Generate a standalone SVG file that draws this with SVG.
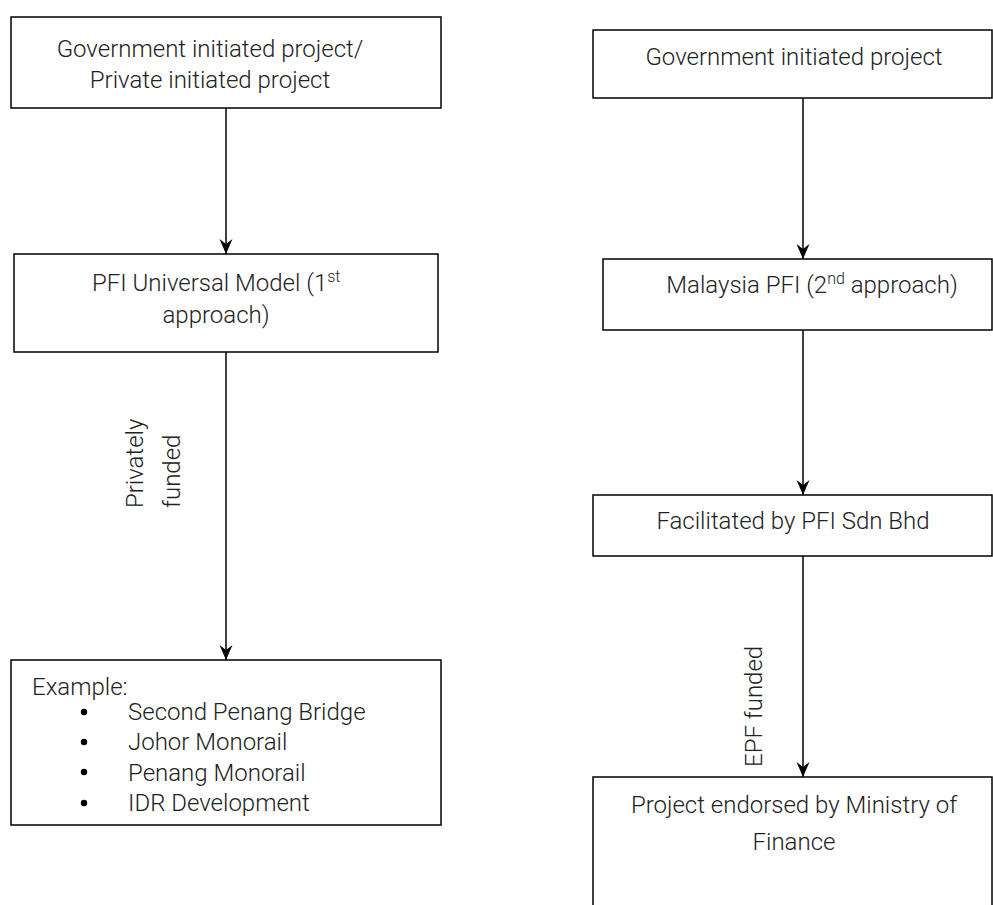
<svg xmlns="http://www.w3.org/2000/svg" width="993" height="905" viewBox="0 0 993 905">
  <style>
    .box { fill: #ffffff; stroke: #000000; stroke-width: 1.5; }
    .lbl { font-family: Roboto, "Liberation Sans", sans-serif; font-weight: 300; font-size: 24px; fill: #222222; }
    .mid { text-anchor: middle; }
    .sup { font-size: 16px; }
    .conn { stroke: #000000; stroke-width: 1.5; fill: none; marker-end: url(#arrow); }
  </style>
  <defs>
    <marker id="arrow" markerUnits="userSpaceOnUse" markerWidth="18" markerHeight="16" viewBox="-16 -8 18 16" refX="0" refY="0" orient="auto">
      <path d="M0,0 L-15,-6.5 L-10,0 L-15,6.5 Z" fill="#000000"/>
    </marker>
  </defs>
  <rect width="993" height="905" fill="#ffffff"/>

  <!-- connectors -->
  <g id="connectors">
    <line class="conn" x1="226" y1="108" x2="226" y2="254"/>
    <line class="conn" x1="226" y1="352" x2="226" y2="660"/>
    <line class="conn" x1="803" y1="98" x2="803" y2="259"/>
    <line class="conn" x1="803" y1="330" x2="803" y2="495"/>
    <line class="conn" x1="803" y1="556" x2="803" y2="777"/>
    <text class="lbl" transform="translate(143,508) rotate(-90)">Privately</text>
    <text class="lbl" transform="translate(180,508) rotate(-90)">funded</text>
    <text class="lbl" transform="translate(762,767) rotate(-90)">EPF funded</text>
  </g>

  <!-- left column -->
  <g id="gov-private">
    <rect class="box" x="11" y="17" width="430" height="91"/>
    <text class="lbl mid" x="210" y="57">Government initiated project/</text>
    <text class="lbl mid" x="210" y="88">Private initiated project</text>
  </g>
  <g id="pfi-universal">
    <rect class="box" x="14" y="254" width="424" height="98"/>
    <text class="lbl" x="92" y="291">PFI Universal Model (1<tspan class="sup" dy="-9">st</tspan></text>
    <text class="lbl mid" x="216" y="323">approach)</text>
  </g>
  <g id="examples">
    <rect class="box" x="11" y="660" width="430" height="165"/>
    <text class="lbl" x="32" y="695">Example:</text>
    <circle cx="84" cy="712" r="3.2" fill="#000"/>
    <circle cx="84" cy="742" r="3.2" fill="#000"/>
    <circle cx="84" cy="772" r="3.2" fill="#000"/>
    <circle cx="84" cy="803" r="3.2" fill="#000"/>
    <text class="lbl" x="128" y="720">Second Penang Bridge</text>
    <text class="lbl" x="128" y="750">Johor Monorail</text>
    <text class="lbl" x="128" y="781">Penang Monorail</text>
    <text class="lbl" x="128" y="811">IDR Development</text>
  </g>

  <!-- right column -->
  <g id="gov-initiated">
    <rect class="box" x="593" y="30" width="399" height="68"/>
    <text class="lbl mid" x="794" y="65">Government initiated project</text>
  </g>
  <g id="malaysia-pfi">
    <rect class="box" x="603" y="259" width="389" height="71"/>
    <text class="lbl mid" x="812" y="293">Malaysia PFI (2<tspan class="sup" dy="-9">nd</tspan><tspan dy="9"> approach)</tspan></text>
  </g>
  <g id="pfi-sdn-bhd">
    <rect class="box" x="593" y="495" width="399" height="61"/>
    <text class="lbl mid" x="793" y="529">Facilitated by PFI Sdn Bhd</text>
  </g>
  <g id="mof-endorsed">
    <rect class="box" x="593" y="777" width="399" height="150"/>
    <text class="lbl mid" x="794" y="813">Project endorsed by Ministry of</text>
    <text class="lbl mid" x="794" y="850">Finance</text>
  </g>
</svg>
